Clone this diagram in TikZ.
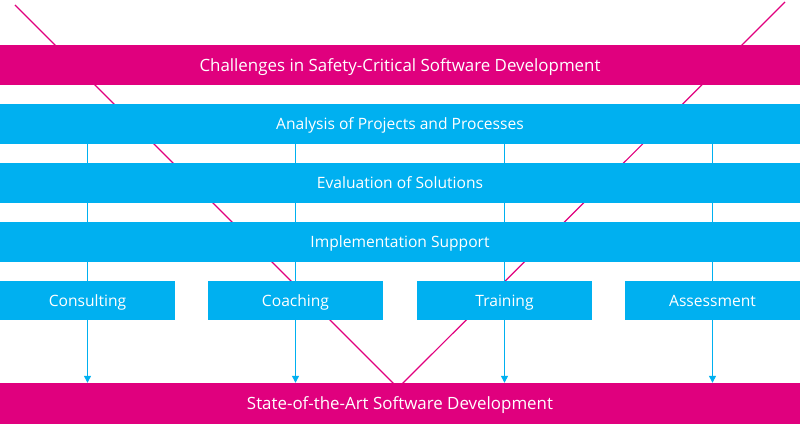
\documentclass[tikz,border=0pt]{standalone}
\usepackage{fontspec}
\setmainfont{Open Sans}
\usetikzlibrary{arrows.meta,backgrounds}
\definecolor{hotpink}{RGB}{224,0,126}
\definecolor{skyblue}{RGB}{0,176,240}
\tikzset{
  pinkbar/.style={fill=hotpink,text=white,minimum width=800pt,minimum height=40pt,inner sep=0pt,
    text height=14pt,text depth=1.5pt,font=\fontsize{16.9}{20}\selectfont},
  bluebar/.style={fill=skyblue,text=white,minimum width=800pt,minimum height=40pt,inner sep=0pt,
    text height=13pt,text depth=1.3pt,font=\fontsize{15.6}{19}\selectfont},
  bluebox/.style={bluebar,minimum width=175pt,minimum height=39pt},
  flow/.style={skyblue,line width=1.2pt,-{Triangle[length=7pt,width=7pt]}},
  vee/.style={hotpink,line width=1.2pt}
}
\begin{document}
\begin{tikzpicture}[x=1pt,y=1pt]
  \useasboundingbox (0,0) rectangle (800,424);
  \node[pinkbar]  (chal) at (400  ,358.5) {Challenges in Safety-Critical Software Development};
  \node[bluebar]  (ana)  at (400  ,300  ) {Analysis of Projects and Processes};
  \node[bluebar]  (eval) at (400  ,241.5) {Evaluation of Solutions};
  \node[bluebar]  (impl) at (400  ,182  ) {Implementation Support};
  \node[bluebox]  (cons) at (87.5 ,123.5) {Consulting};
  \node[bluebox]  (coach) at (295.5,123.5) {Coaching};
  \node[bluebox]  (train) at (504.5,123.5) {Training};
  \node[bluebox]  (asse) at (712.5,123.5) {Assessment};
  \node[pinkbar,minimum height=41pt] (sota) at (400,20.5) {State-of-the-Art Software Development};
  \coordinate     (vl)   at (15 ,419);
  \coordinate     (vr)   at (785,422);
  \coordinate     (vtip) at (398,36 );
  \begin{scope}[on background layer]
     \draw[vee] (vl) -- (vtip) -- (vr);
     \foreach \b in {cons,coach,train,asse}
        \draw[flow] (ana.south -| \b.center) -- (sota.north -| \b.center);
  \end{scope}
\end{tikzpicture}
\end{document}
